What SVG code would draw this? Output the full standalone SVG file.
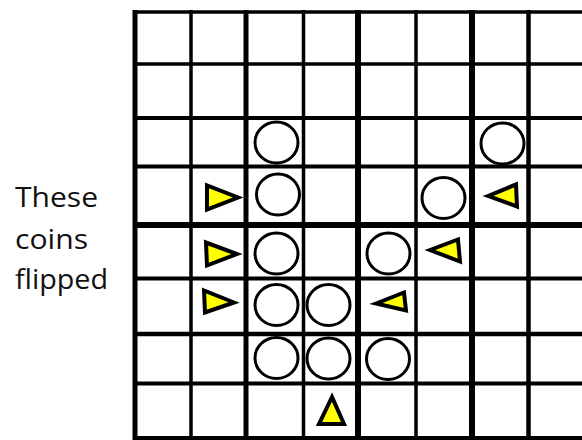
<svg xmlns="http://www.w3.org/2000/svg" width="582" height="440" viewBox="0 0 582 440">
  <style>
    .ln { stroke: #000; fill: none; }
    .coin { fill: #fff; stroke: #000; stroke-width: 3; }
    .tri { fill: #ffff00; stroke: #000; stroke-width: 4; stroke-linejoin: miter; }
    .lbl { font-family: "Open Sans", "DejaVu Sans", sans-serif; font-size: 27px; fill: #111; }
  </style>
  <rect width="582" height="440" fill="#fff"/>
  <g id="label">
    <text class="lbl" x="15" y="207" textLength="83" lengthAdjust="spacingAndGlyphs">These</text>
    <text class="lbl" x="15" y="249" textLength="73" lengthAdjust="spacingAndGlyphs">coins</text>
    <text class="lbl" x="15" y="289" textLength="93" lengthAdjust="spacingAndGlyphs">flipped</text>
  </g>
  <g id="grid">
    <line class="ln" x1="133" y1="12" x2="582" y2="12" stroke-width="3.5"/>
    <line class="ln" x1="133" y1="64" x2="582" y2="64" stroke-width="3.5"/>
    <line class="ln" x1="133" y1="118" x2="582" y2="118" stroke-width="4"/>
    <line class="ln" x1="133" y1="166.5" x2="582" y2="166.5" stroke-width="4"/>
    <line class="ln" x1="133" y1="225" x2="582" y2="225" stroke-width="6"/>
    <line class="ln" x1="133" y1="278.5" x2="582" y2="278.5" stroke-width="4"/>
    <line class="ln" x1="133" y1="334" x2="582" y2="334" stroke-width="4.5"/>
    <line class="ln" x1="133" y1="383.5" x2="582" y2="383.5" stroke-width="4"/>
    <line class="ln" x1="133" y1="438" x2="582" y2="438" stroke-width="4"/>
    <line class="ln" x1="135" y1="10" x2="135" y2="440" stroke-width="5"/>
    <line class="ln" x1="191" y1="10" x2="191" y2="440" stroke-width="3.5"/>
    <line class="ln" x1="246" y1="10" x2="246" y2="440" stroke-width="5"/>
    <line class="ln" x1="303.5" y1="10" x2="303.5" y2="440" stroke-width="3.5"/>
    <line class="ln" x1="358" y1="10" x2="358" y2="440" stroke-width="6"/>
    <line class="ln" x1="416" y1="10" x2="416" y2="440" stroke-width="3.5"/>
    <line class="ln" x1="472" y1="10" x2="472" y2="440" stroke-width="6"/>
    <line class="ln" x1="528.5" y1="10" x2="528.5" y2="440" stroke-width="4.5"/>
  </g>
  <g id="coins">
    <g id="coin-c3r3"><ellipse class="coin" cx="276.5" cy="142.5" rx="21.5" ry="20.5"/></g>
    <g id="coin-c3r4"><ellipse class="coin" cx="278" cy="194.5" rx="21.5" ry="20.5"/></g>
    <g id="coin-c3r5"><ellipse class="coin" cx="276.5" cy="253.5" rx="21.5" ry="20.5"/></g>
    <g id="coin-c3r6"><ellipse class="coin" cx="276.5" cy="305" rx="21.5" ry="20.5"/></g>
    <g id="coin-c4r6"><ellipse class="coin" cx="328.5" cy="305" rx="21.5" ry="20.5"/></g>
    <g id="coin-c3r7"><ellipse class="coin" cx="276.5" cy="358" rx="21.5" ry="20.5"/></g>
    <g id="coin-c4r7"><ellipse class="coin" cx="328.5" cy="358.5" rx="21.5" ry="20.5"/></g>
    <g id="coin-c5r7"><ellipse class="coin" cx="388" cy="359" rx="21.5" ry="20.5"/></g>
    <g id="coin-c5r5"><ellipse class="coin" cx="388.5" cy="253.5" rx="21.5" ry="20.5"/></g>
    <g id="coin-c6r4"><ellipse class="coin" cx="443.5" cy="198" rx="21.5" ry="20.5"/></g>
    <g id="coin-c7r3"><ellipse class="coin" cx="502.5" cy="143.5" rx="21.5" ry="20.5"/></g>
  </g>
  <g id="arrows">
    <g id="tri-c2r4"><polygon class="tri" points="207,185.5 207,209.5 238,197.5"/></g>
    <g id="tri-c2r5"><polygon class="tri" points="206,242.5 207,265.5 237,254"/></g>
    <g id="tri-c2r6"><polygon class="tri" points="204,290.5 205,312.5 234,302.5"/></g>
    <g id="tri-c7r4"><polygon class="tri" points="488,196 516,184.5 517,206.5"/></g>
    <g id="tri-c6r5"><polygon class="tri" points="430,250 458,239.5 460,261.5"/></g>
    <g id="tri-c5r6"><polygon class="tri" points="376,303.5 404,292.5 406,310.5"/></g>
    <g id="tri-c4r8"><polygon class="tri" points="332,397 319,424 344,424"/></g>
  </g>
</svg>
